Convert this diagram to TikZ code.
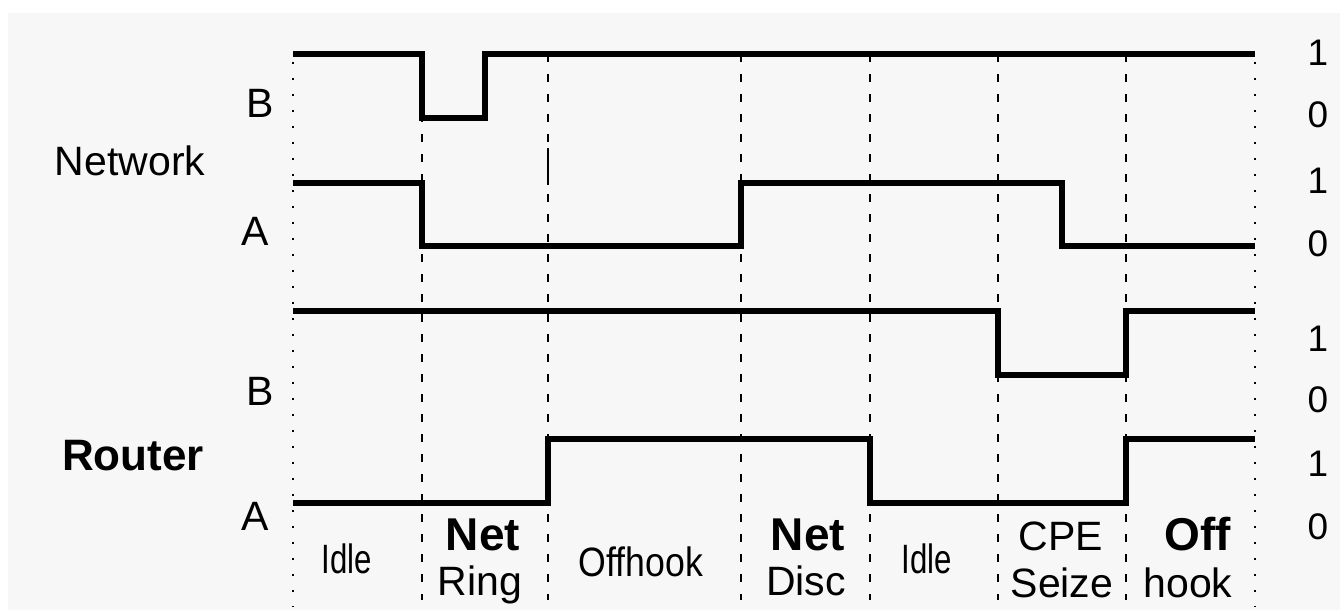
\documentclass[tikz,border=0pt]{standalone}
\usepackage{fontspec}
\setmainfont{Liberation Sans}
\definecolor{bg}{HTML}{F7F7F7}
\begin{document}
\begin{tikzpicture}[x=1pt,y=-1pt,
  wave/.style={line width=6.5pt, line join=miter, line cap=butt},
  guide/.style={line width=2pt, dash pattern=on 8pt off 12pt},
  dotguide/.style={line width=2pt, dash pattern=on 2pt off 14pt},
  lbl/.style={font=\fontsize{41}{41}\selectfont, inner sep=0pt, anchor=base},
  digit/.style={font=\fontsize{37}{37}\selectfont, inner sep=0pt, anchor=base},
  bl/.style={font=\fontsize{46}{46}\selectfont\bfseries, inner sep=0pt, anchor=base}]
\useasboundingbox (0,0) rectangle (1340,610);
\fill[white] (0,0) rectangle (1340,610);
\fill[bg] (8,13) rectangle (1340,610);

% guide lines
\foreach \x/\n in {422/g1,548/g2,741/g3,870/g4,998/g5,1126/g6}{
  \coordinate (\n t) at (\x,54);
  \coordinate (\n b) at (\x,600);
  \draw[guide] (\n t) -- (\n b);
}
\coordinate (s1) at (548,148);
\coordinate (s2) at (548,185);
\draw[line width=2pt] (s1) -- (s2);
\coordinate (dl1) at (293,62);
\coordinate (dl2) at (293,607);
\coordinate (dr1) at (1255,62);
\coordinate (dr2) at (1255,607);
\draw[dotguide] (dl1) -- (dl2);
\draw[dotguide] (dr1) -- (dr2);

% waveforms
\draw[wave] (293,54) -- (422,54) -- (422,118) -- (485,118) -- (485,54) -- (1255,54);
\draw[wave] (293,183) -- (422,183) -- (422,246) -- (741,246) -- (741,183) -- (1062,183) -- (1062,246) -- (1255,246);
\draw[wave] (293,311) -- (998,311) -- (998,375) -- (1126,375) -- (1126,311) -- (1255,311);
\draw[wave] (293,503) -- (548,503) -- (548,439) -- (870,439) -- (870,503) -- (1126,503) -- (1126,439) -- (1255,439);

% left labels
\node[lbl] (nb) at (260,117) {B};
\node[lbl] (net) at (130,175) {Network};
\node[lbl] (na) at (255,245) {A};
\node[lbl] (rb) at (260,405) {B};
\node[lbl,font=\fontsize{44}{44}\selectfont\bfseries] (rt) at (133,470) {Router};
\node[lbl] (ra) at (255,530) {A};

% right digits
\node[digit] (d1) at (1318,65) {1};
\node[digit] (d2) at (1318,127) {0};
\node[digit] (d3) at (1318,193) {1};
\node[digit] (d4) at (1318,256) {0};
\node[digit] (d5) at (1318,351) {1};
\node[digit] (d6) at (1318,412) {0};
\node[digit] (d7) at (1318,476) {1};
\node[digit] (d8) at (1318,539) {0};

% bottom labels
\node[lbl] (i1) at (347,573) {\scalebox{0.76}[1]{Idle}};
\node[bl] (n1) at (483,550) {Net};
\node[lbl] (r1) at (480,595) {Ring};
\node[lbl] (oh) at (641,576) {\scalebox{0.87}[1]{Offhook}};
\node[bl] (n2) at (808,550) {Net};
\node[lbl] (r2) at (806,595) {Disc};
\node[lbl] (i2) at (927,573) {\scalebox{0.76}[1]{Idle}};
\node[lbl] (c1) at (1061,550) {CPE};
\node[lbl] (c2) at (1062,597) {Seize};
\node[bl] (o1) at (1198,550) {Off};
\node[lbl] (o2) at (1188,597) {hook};
\end{tikzpicture}
\end{document}
